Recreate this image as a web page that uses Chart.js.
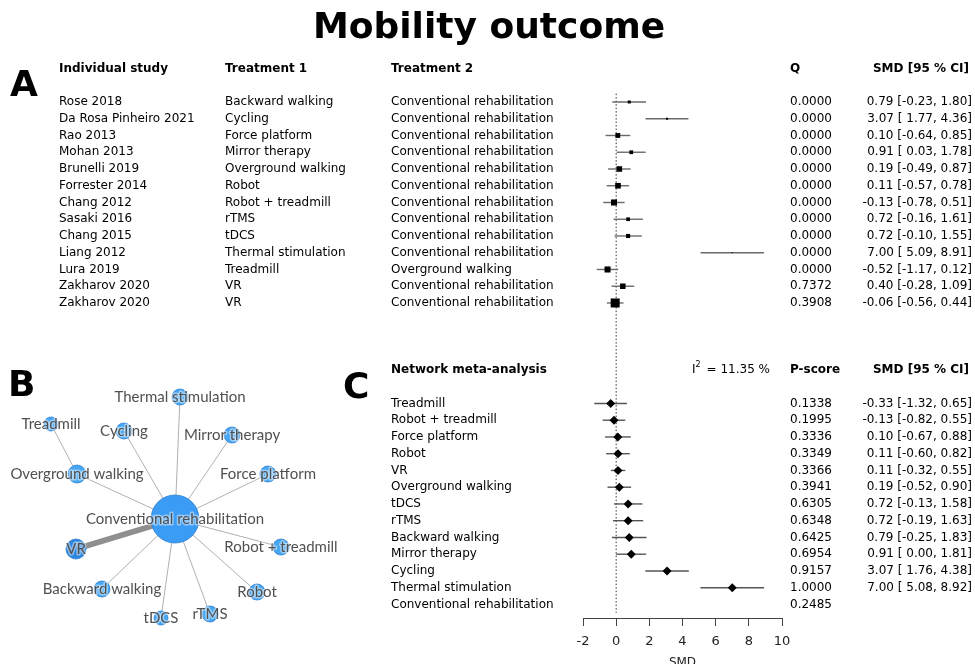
<!DOCTYPE html>
<html>
<head>
<meta charset="utf-8">
<title>Mobility outcome</title>
<script src="https://cdn.jsdelivr.net/npm/chart.js@4.4.1/dist/chart.umd.min.js"></script>
<style>
  html, body { margin: 0; padding: 0; background: #fff; }
  #wrap { position: relative; width: 975px; height: 664px; overflow: hidden; }
  #forest { position: absolute; left: 0; top: 0; }
  #net { position: absolute; left: 0; top: 370px; }
</style>
</head>
<body>
<div id="wrap">
  <canvas id="forest" width="975" height="664"></canvas>
  <canvas id="net" width="340" height="270"></canvas>
</div>
<script>
// ---- Individual studies (pairwise comparisons) ----
const studies = ['Rose 2018', 'Da Rosa Pinheiro 2021', 'Rao 2013', 'Mohan 2013', 'Brunelli 2019',
  'Forrester 2014', 'Chang 2012', 'Sasaki 2016', 'Chang 2015', 'Liang 2012', 'Lura 2019',
  'Zakharov 2020', 'Zakharov 2020'];
const treatment1 = ['Backward walking', 'Cycling', 'Force platform', 'Mirror therapy', 'Overground walking',
  'Robot', 'Robot + treadmill', 'rTMS', 'tDCS', 'Thermal stimulation', 'Treadmill', 'VR', 'VR'];
const treatment2 = ['Conventional rehabilitation', 'Conventional rehabilitation', 'Conventional rehabilitation',
  'Conventional rehabilitation', 'Conventional rehabilitation', 'Conventional rehabilitation',
  'Conventional rehabilitation', 'Conventional rehabilitation', 'Conventional rehabilitation',
  'Conventional rehabilitation', 'Overground walking', 'Conventional rehabilitation', 'Conventional rehabilitation'];
const studyQ = [0, 0, 0, 0, 0, 0, 0, 0, 0, 0, 0, 0.7372, 0.3908];
const studySMD = [0.79, 3.07, 0.10, 0.91, 0.19, 0.11, -0.13, 0.72, 0.72, 7.00, -0.52, 0.40, -0.06];
const studyLower = [-0.23, 1.77, -0.64, 0.03, -0.49, -0.57, -0.78, -0.16, -0.10, 5.09, -1.17, -0.28, -0.56];
const studyUpper = [1.80, 4.36, 0.85, 1.78, 0.87, 0.78, 0.51, 1.61, 1.55, 8.91, 0.12, 1.09, 0.44];

// ---- Network meta-analysis estimates (vs conventional rehabilitation) ----
const nmaTreatments = ['Treadmill', 'Robot + treadmill', 'Force platform', 'Robot', 'VR', 'Overground walking',
  'tDCS', 'rTMS', 'Backward walking', 'Mirror therapy', 'Cycling', 'Thermal stimulation',
  'Conventional rehabilitation'];
const nmaPScore = [0.1338, 0.1995, 0.3336, 0.3349, 0.3366, 0.3941, 0.6305, 0.6348, 0.6425, 0.6954, 0.9157, 1.0000, 0.2485];
const nmaSMD = [-0.33, -0.13, 0.10, 0.11, 0.11, 0.19, 0.72, 0.72, 0.79, 0.91, 3.07, 7.00, null];
const nmaLower = [-1.32, -0.82, -0.67, -0.60, -0.32, -0.52, -0.13, -0.19, -0.25, 0.00, 1.76, 5.08, null];
const nmaUpper = [0.65, 0.55, 0.88, 0.82, 0.55, 0.90, 1.58, 1.63, 1.83, 1.81, 4.38, 8.92, null];
const heterogeneityI2 = 11.35;

// ---- Axis ticks ----
const smdTicks = [-2, 0, 2, 4, 6, 8, 10];

// ---- Network graph layout (unit coordinates, reference node at origin) ----
const netLayout = {
  'Conventional rehabilitation': [0.00, 0.00],
  'Thermal stimulation': [0.05, 1.22],
  'Treadmill': [-1.24, 0.95],
  'Cycling': [-0.51, 0.88],
  'Mirror therapy': [0.57, 0.84],
  'Overground walking': [-0.98, 0.45],
  'Force platform': [0.93, 0.45],
  'VR': [-0.99, -0.30],
  'Robot + treadmill': [1.06, -0.28],
  'Backward walking': [-0.73, -0.70],
  'Robot': [0.82, -0.73],
  'tDCS': [-0.14, -0.99],
  'rTMS': [0.35, -0.95]
};
const netNodeRadius = {
  'Conventional rehabilitation': 24, 'VR': 10, 'Overground walking': 9, 'Thermal stimulation': 8,
  'Treadmill': 7, 'Cycling': 8, 'Mirror therapy': 8, 'Force platform': 8, 'Robot + treadmill': 8,
  'Backward walking': 8, 'Robot': 8, 'tDCS': 7, 'rTMS': 8
};

// ---- Row layout of the forest panels ----
const HEADER_A = -2, HEADER_C = 16, FIRST_C = 18;
const ROW_MIN = -6.09, ROW_MAX = 30.81;
const COL = { study: 59, t1: 225, t2: 391, q: 790, smdRight: 972, smdHeadRight: 969 };
const FONT = '"DejaVu Sans", "Liberation Sans", sans-serif';

const f2 = v => v.toFixed(2);
function ciLabels(est, lo, hi) {
  const loW = Math.max(...lo.filter(v => v !== null).map(v => f2(v).length));
  const hiW = Math.max(...hi.filter(v => v !== null).map(v => f2(v).length));
  return est.map((e, i) => e !== null ? `${f2(e)} [${f2(lo[i]).padStart(loW)}, ${f2(hi[i]).padStart(hiW)}]` : '');
}
const studyCI = ciLabels(studySMD, studyLower, studyUpper);
const nmaCI = ciLabels(nmaSMD, nmaLower, nmaUpper);

// inverse-variance weights set the box size of each study
const studyWeight = studyLower.map((lo, i) => Math.pow(3.92 / (studyUpper[i] - lo), 2));
const maxWeight = Math.max(...studyWeight);
const boxSide = studyWeight.map(w => 9 * Math.pow(w / maxWeight, 0.78));

// ---- Datasets ----
const datasets = [];
// reference line at SMD = 0
datasets.push({
  data: [{ x: 0, y: -0.5 }, { x: 0, y: FIRST_C + nmaTreatments.length - 0.5 }],
  showLine: true, borderColor: '#333', borderWidth: 1, borderDash: [1.5, 2],
  pointRadius: 0, order: 3
});
// confidence intervals
studySMD.forEach((v, i) => {
  datasets.push({
    data: [{ x: studyLower[i], y: i }, { x: studyUpper[i], y: i }],
    showLine: true, borderColor: '#6a6a6a', borderWidth: 1.4, pointRadius: 0, order: 2
  });
});
nmaSMD.forEach((v, i) => {
  if (v === null) return;
  datasets.push({
    data: [{ x: nmaLower[i], y: FIRST_C + i }, { x: nmaUpper[i], y: FIRST_C + i }],
    showLine: true, borderColor: '#555', borderWidth: 1.4, pointRadius: 0, order: 2
  });
});
// study boxes
datasets.push({
  data: studySMD.map((v, i) => ({ x: v, y: i })),
  pointStyle: 'rect', pointRadius: boxSide.map(s => s / Math.SQRT2),
  backgroundColor: '#000', borderColor: '#000', borderWidth: 0, order: 0
});
// network estimates
datasets.push({
  data: nmaSMD.map((v, i) => v === null ? null : ({ x: v, y: FIRST_C + i })).filter(d => d),
  pointStyle: 'rectRot', pointRadius: 4.5,
  backgroundColor: '#000', borderColor: '#000', borderWidth: 0, order: 0
});

const forestText = {
  id: 'forestText',
  afterDraw(chart) {
    const { ctx } = chart;
    const ys = chart.scales.y, xs = chart.scales.x;
    const ry = r => ys.getPixelForValue(r);
    ctx.save();
    ctx.fillStyle = '#000';

    // title and panel letters
    ctx.textAlign = 'center';
    ctx.textBaseline = 'alphabetic';
    ctx.font = `bold 36px ${FONT}`;
    ctx.fillText('Mobility outcome', 489, 38);
    ctx.textAlign = 'left';
    ctx.fillText('A', 10, 96);
    ctx.fillText('B', 8, 396);
    ctx.fillText('C', 343, 398);

    ctx.textBaseline = 'middle';
    // panel A headers
    ctx.font = `bold 12px ${FONT}`;
    let y = ry(HEADER_A);
    ctx.fillText('Individual study', COL.study, y);
    ctx.fillText('Treatment 1', COL.t1, y);
    ctx.fillText('Treatment 2', COL.t2, y);
    ctx.fillText('Q', COL.q, y);
    ctx.textAlign = 'right';
    ctx.fillText('SMD [95 % CI]', COL.smdHeadRight, y);

    // panel A rows
    ctx.font = `12px ${FONT}`;
    studies.forEach((s, i) => {
      const yy = ry(i);
      ctx.textAlign = 'left';
      ctx.fillText(s, COL.study, yy);
      ctx.fillText(treatment1[i], COL.t1, yy);
      ctx.fillText(treatment2[i], COL.t2, yy);
      ctx.fillText(studyQ[i].toFixed(4), COL.q, yy);
      ctx.textAlign = 'right';
      ctx.fillText(studyCI[i], COL.smdRight, yy);
    });

    // panel C headers
    y = ry(HEADER_C);
    ctx.textAlign = 'left';
    ctx.font = `bold 12px ${FONT}`;
    ctx.fillText('Network meta-analysis', COL.t2, y);
    ctx.fillText('P-score', COL.q, y);
    ctx.textAlign = 'right';
    ctx.fillText('SMD [95 % CI]', COL.smdHeadRight, y);
    // heterogeneity
    ctx.font = `12px ${FONT}`;
    const i2Text = `= ${heterogeneityI2.toFixed(2)} %`;
    ctx.fillText(i2Text, 770, y);
    const w = ctx.measureText(i2Text).width;
    ctx.font = `8px ${FONT}`;
    ctx.fillText('2', 770 - w - 6, y - 5);
    ctx.font = `12px ${FONT}`;
    ctx.fillText('I', 770 - w - 11, y);

    // panel C rows
    nmaTreatments.forEach((t, i) => {
      const yy = ry(FIRST_C + i);
      ctx.textAlign = 'left';
      ctx.fillText(t, COL.t2, yy);
      ctx.fillText(nmaPScore[i].toFixed(4), COL.q, yy);
      ctx.textAlign = 'right';
      if (nmaCI[i]) ctx.fillText(nmaCI[i], COL.smdRight, yy);
    });

    // axis title
    ctx.textAlign = 'center';
    ctx.textBaseline = 'alphabetic';
    ctx.fillStyle = '#222';
    ctx.font = `12px ${FONT}`;
    ctx.fillText('SMD', (xs.left + xs.right) / 2, 666);
    ctx.restore();
  }
};

new Chart(document.getElementById('forest'), {
  type: 'scatter',
  data: { datasets },
  options: {
    responsive: false,
    animation: false,
    events: [],
    layout: { padding: { left: 583, right: 193, top: 0, bottom: 0 }, autoPadding: false },
    plugins: { legend: { display: false }, tooltip: { enabled: false } },
    scales: {
      x: {
        type: 'linear', position: 'bottom', min: -2, max: 10,
        afterBuildTicks: s => { s.ticks = smdTicks.map(v => ({ value: v })); },
        afterFit: s => { s.height = 46; s.paddingLeft = 0; s.paddingRight = 0; },
        grid: { display: true, drawOnChartArea: false, drawTicks: true, tickLength: 8, color: '#444', lineWidth: 1 },
        border: { display: true, color: '#444', width: 1 },
        ticks: { autoSkip: false, maxRotation: 0, padding: 8, color: '#222',
          font: { family: 'DejaVu Sans', size: 13 } }
      },
      y: { type: 'linear', reverse: true, min: ROW_MIN, max: ROW_MAX, display: false }
    }
  },
  plugins: [forestText]
});

// ---- Network graph ----
const netNames = Object.keys(netLayout);
const edgeCount = {};
treatment1.forEach((t, i) => {
  const key = [t, treatment2[i]].sort().join('|');
  edgeCount[key] = (edgeCount[key] || 0) + 1;
});
const netDatasets = Object.entries(edgeCount).map(([key, n]) => {
  const [a, b] = key.split('|');
  return {
    data: [{ x: netLayout[a][0], y: netLayout[a][1] }, { x: netLayout[b][0], y: netLayout[b][1] }],
    showLine: true, pointRadius: 0, borderColor: n > 1 ? '#8f8f8f' : '#b0b0b0',
    borderWidth: 1 + (n - 1) * 4.5, order: 1, clip: false
  };
});
netDatasets.push({
  data: netNames.map(n => ({ x: netLayout[n][0], y: netLayout[n][1] })),
  pointRadius: netNames.map(n => netNodeRadius[n]),
  backgroundColor: netNames.map(n => n === 'VR' ? '#2d86de' : (n === 'Conventional rehabilitation' ? '#3a9cf4' : '#47a7f3')),
  borderColor: '#2f7fcf', borderWidth: 0.8, order: 0, clip: false
});

const netLabels = {
  id: 'netLabels',
  afterDatasetsDraw(chart) {
    const { ctx } = chart;
    const xs = chart.scales.x, ys = chart.scales.y;
    ctx.save();
    ctx.font = '400 15px Lato, "Open Sans", sans-serif';
    ctx.textAlign = 'center';
    ctx.textBaseline = 'middle';
    ctx.lineJoin = 'round';
    netNames.forEach(n => {
      const px = xs.getPixelForValue(netLayout[n][0]);
      const py = ys.getPixelForValue(netLayout[n][1]);
      ctx.strokeStyle = 'rgba(255,255,255,0.45)';
      ctx.lineWidth = 3;
      ctx.strokeText(n, px, py);
      ctx.fillStyle = '#505050';
      ctx.fillText(n, px, py);
    });
    ctx.restore();
  }
};

new Chart(document.getElementById('net'), {
  type: 'scatter',
  data: { datasets: netDatasets },
  options: {
    responsive: false,
    animation: false,
    events: [],
    layout: { padding: 0, autoPadding: false },
    plugins: { legend: { display: false }, tooltip: { enabled: false } },
    scales: {
      x: { type: 'linear', min: -1.75, max: 1.65, display: false },
      y: { type: 'linear', min: -1.21, max: 1.49, display: false }
    }
  },
  plugins: [netLabels]
});
</script>
</body>
</html>
